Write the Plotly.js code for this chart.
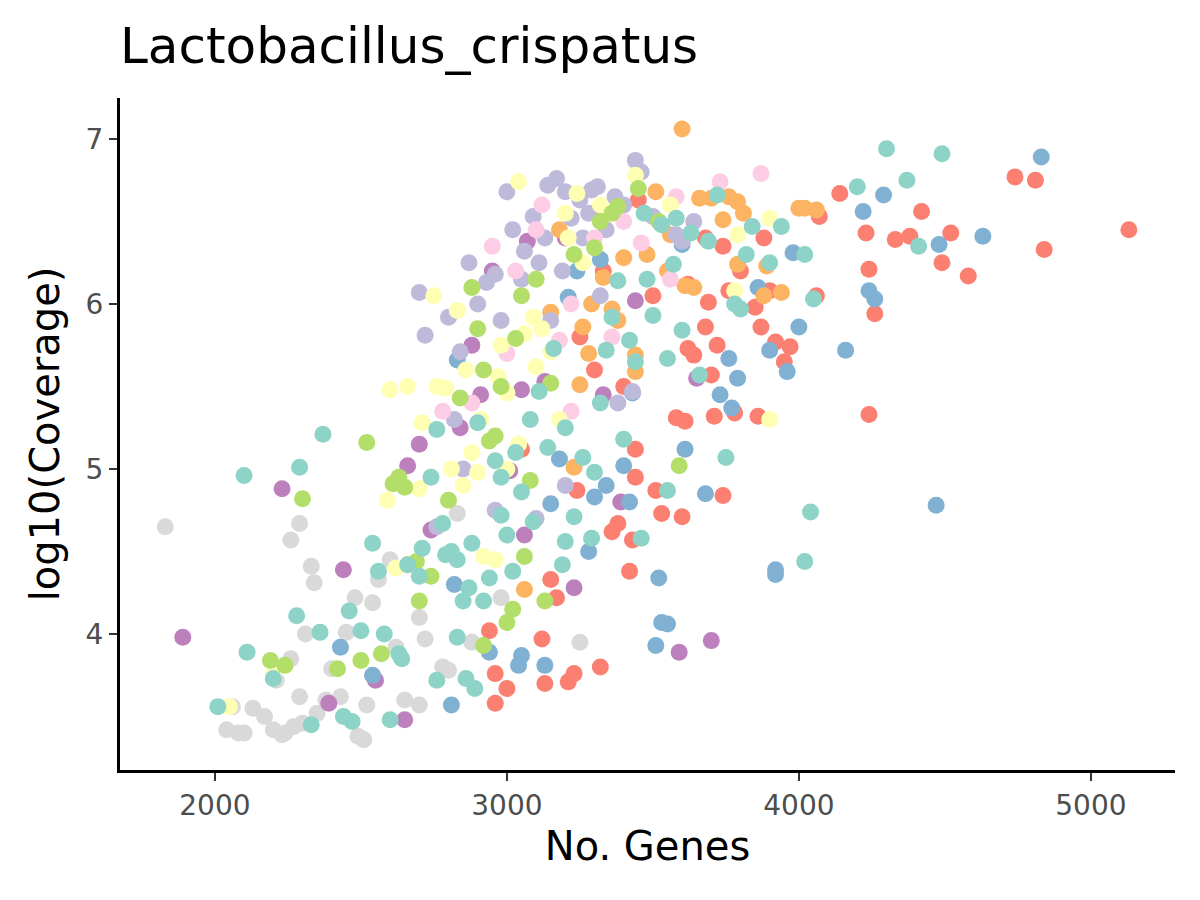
<!DOCTYPE html>
<html>
<head>
<meta charset="utf-8">
<script src="https://cdn.plot.ly/plotly-3.0.1.min.js"></script>
<style>body{margin:0;background:#fff}#chart{width:1200px;height:900px}</style>
</head>
<body>
<div id="chart"></div>
<script>
// [genes, log10 coverage] pairs per group
const greyPts = [[1830,4.65],[2040,3.42],[2060,3.56],[2080,3.40],[2100,3.40],[2130,3.55],[2170,3.50],[2200,3.42],[2210,3.72],[2240,3.40],[2260,3.85],[2260,4.57],[2290,4.67],[2290,3.62],[2300,3.46],[2330,4.41],[2340,4.31],[2350,3.52],[2380,3.60],[2400,3.79],[2430,3.62],[2450,4.01],[2480,4.22],[2490,3.38],[2510,3.36],[2520,3.57],[2540,4.19],[2560,4.33],[2600,4.45],[2620,3.92],[2650,3.60],[2700,4.10],[2700,3.57],[2720,3.97],[2780,3.80],[2800,3.78],[2830,4.73],[2880,3.95],[2980,4.22],[3250,3.95],[2270,3.44],[2230,3.39],[2310,4.00]];
const purplePts = [[1890,3.98],[2230,4.88],[2390,3.58],[2440,4.39],[2550,3.72],[2650,3.48],[2660,5.02],[2700,5.15],[2740,4.63],[2880,5.75],[2910,5.45],[2950,6.20],[3010,4.99],[3060,4.60],[3070,6.38],[3130,5.53],[3200,6.40],[3230,4.28],[3330,5.45],[3390,4.80],[3440,6.02],[3590,3.89],[3650,5.55],[3700,3.96],[3050,5.48],[2840,5.25]];
const salmonPts = [[2960,3.58],[2940,4.02],[2960,3.76],[3000,3.67],[3130,3.70],[3120,3.97],[3150,4.33],[3170,4.22],[3210,3.71],[3230,3.76],[3240,4.87],[3320,3.80],[3360,4.62],[3380,4.67],[3420,4.38],[3430,4.57],[3440,5.12],[3510,4.87],[3530,4.73],[3580,5.31],[3600,4.71],[3610,5.29],[3620,5.73],[3640,5.69],[3680,5.86],[3690,6.01],[3700,5.57],[3710,5.32],[3720,5.75],[3740,6.35],[3760,6.08],[3780,5.34],[3800,6.20],[3850,5.98],[3860,5.32],[3870,5.86],[3880,6.40],[3900,6.08],[3920,5.77],[3950,5.65],[3970,5.74],[4060,6.05],[4070,6.53],[4140,6.67],[4230,6.43],[4240,5.33],[4240,6.21],[4260,5.94],[4330,6.39],[4380,6.41],[4420,6.56],[4490,6.25],[4520,6.43],[4580,6.17],[4740,6.77],[4810,6.75],[4840,6.33],[5130,6.45],[3050,5.12],[3300,5.60],[3500,6.05],[3440,4.95],[3620,6.12],[3740,4.84],[3450,6.63],[3330,6.20],[3250,5.80],[3400,5.50],[3680,6.40]];
const bluePts = [[2430,3.92],[2540,3.75],[2810,3.57],[2830,5.66],[2820,4.30],[2940,3.89],[3040,3.81],[3050,3.87],[3130,3.81],[3150,4.79],[3180,5.06],[3240,6.20],[3280,4.50],[3300,4.83],[3340,4.90],[3400,5.02],[3420,4.80],[3430,5.46],[3510,3.93],[3520,4.34],[3530,4.07],[3550,4.06],[3610,5.12],[3680,4.85],[3730,5.45],[3760,5.67],[3770,5.37],[3790,5.55],[3860,6.10],[3900,5.72],[3920,4.36],[3920,4.39],[3960,5.59],[3980,6.31],[4000,5.86],[4160,5.72],[4220,6.56],[4240,6.08],[4260,6.03],[4290,6.66],[4470,4.78],[4480,6.36],[4630,6.41],[4830,6.89],[3210,6.04],[3320,6.27],[3600,6.36]];
const orangePts = [[2660,4.42],[3060,4.27],[3230,5.01],[3250,5.51],[3260,5.86],[3290,6.00],[3330,6.16],[3360,5.97],[3380,5.90],[3440,5.69],[3440,5.59],[3480,6.30],[3510,6.68],[3560,6.42],[3600,7.06],[3610,6.11],[3640,6.10],[3660,6.64],[3700,6.64],[3740,6.51],[3790,6.62],[3790,6.24],[3810,6.55],[3880,6.05],[3890,6.23],[3940,6.07],[4000,6.58],[4020,6.58],[4060,6.57],[3300,6.55],[3150,5.95],[3550,6.20],[3760,6.65],[3180,6.45],[3400,6.28],[3280,5.70]];
const greenPts = [[2190,3.84],[2240,3.81],[2300,4.82],[2420,3.79],[2500,3.84],[2520,5.16],[2570,3.88],[2610,4.91],[2650,4.89],[2690,4.44],[2700,4.20],[2740,4.35],[2800,4.81],[2840,5.43],[2880,6.10],[2920,3.93],[2940,5.17],[2960,5.20],[3000,4.07],[3020,4.15],[3030,5.79],[3060,4.47],[3080,4.93],[3100,6.15],[3130,4.20],[3150,5.52],[3230,6.30],[3300,6.34],[3320,6.50],[3360,6.55],[3380,6.59],[3450,6.70],[3520,6.50],[3590,5.02],[2900,5.85],[2980,5.50],[3050,6.05],[2630,4.95],[2920,5.60]];
const yellowPts = [[2050,3.56],[2200,3.75],[2590,4.81],[2620,4.40],[2660,5.50],[2710,5.28],[2750,6.05],[2790,5.49],[2810,5.00],[2830,5.96],[2850,4.90],[2880,5.10],[2910,5.30],[2920,4.47],[2960,4.45],[2970,5.56],[3000,5.46],[3040,6.74],[3060,5.82],[3090,5.92],[3100,5.62],[3150,5.71],[3200,6.55],[3210,6.40],[3240,6.67],[3320,6.60],[3440,6.78],[3560,6.60],[3780,6.08],[3790,6.42],[3900,5.30],[3900,6.52],[3040,5.15],[2900,4.98],[3180,5.30],[3000,5.00],[2700,4.88],[2600,5.48],[2760,5.50],[2860,5.60],[2980,5.75],[3120,5.85],[3260,6.25]];
const pinkPts = [[2780,5.35],[2880,5.40],[2950,6.35],[3030,6.20],[3120,6.60],[3180,5.78],[3220,5.35],[3360,5.80],[3400,6.50],[3460,6.37],[3580,6.65],[3730,6.74],[3870,6.79],[3560,6.15],[3220,6.00],[3000,5.70],[3100,6.45],[3300,6.40]];
const lavenderPts = [[2700,6.07],[2720,5.81],[2800,5.92],[2840,5.71],[2870,6.25],[2930,6.13],[2960,6.18],[2980,5.90],[3000,6.68],[3060,6.32],[3090,6.53],[3110,6.25],[3140,6.72],[3170,6.76],[3200,6.68],[3220,6.52],[3250,6.63],[3290,6.69],[3310,6.71],[3340,6.45],[3370,6.65],[3400,6.60],[3440,6.87],[3460,6.80],[3500,6.53],[3580,6.42],[3600,6.38],[3640,6.50],[2850,5.00],[2960,4.75],[3100,4.70],[3200,4.90],[3380,5.40],[3430,5.47],[2760,4.65],[2820,5.30],[3150,5.90],[3320,6.05],[3050,6.15],[3260,6.40],[3130,6.40],[3280,6.55],[3020,6.45],[2900,6.00],[3190,6.20]];
const tealPts = [[2010,3.56],[2100,4.96],[2110,3.89],[2200,3.73],[2280,4.11],[2290,5.01],[2330,3.45],[2360,4.01],[2370,5.21],[2460,4.14],[2470,3.47],[2500,4.02],[2540,4.55],[2560,4.38],[2600,3.48],[2630,3.88],[2660,4.42],[2700,4.35],[2710,4.52],[2740,4.95],[2760,5.24],[2780,4.67],[2790,4.48],[2810,4.50],[2830,3.98],[2860,3.73],[2870,4.28],[2890,3.67],[2900,5.28],[2940,4.34],[2960,5.05],[2980,4.72],[3000,4.60],[3020,4.38],[3030,5.10],[3050,4.86],[3090,4.68],[3110,5.47],[3140,5.13],[3160,5.73],[3190,4.42],[3200,4.56],[3230,4.71],[3260,5.07],[3290,4.58],[3300,4.98],[3320,5.40],[3340,5.72],[3360,5.92],[3380,6.14],[3400,5.18],[3420,5.78],[3440,5.65],[3470,6.55],[3500,5.93],[3530,6.48],[3550,5.67],[3570,6.24],[3600,5.84],[3630,6.43],[3660,5.57],[3690,6.38],[3720,6.66],[3750,5.07],[3780,6.00],[3800,5.97],[3820,6.30],[3840,6.47],[3900,6.25],[3940,6.47],[4020,6.30],[4040,4.74],[4020,4.44],[4050,6.03],[4200,6.71],[4300,6.94],[4370,6.75],[4410,6.35],[4490,6.91],[2580,4.00],[2640,3.85],[2850,4.20],[3460,4.58],[3550,4.87],[2760,3.72],[2440,3.50],[2880,4.55],[2980,4.95],[3080,5.30],[3200,5.25],[3480,6.15],[3580,6.52],[2920,4.20],[2830,4.45]];

const groups = [
    [greyPts, '#D9D9D9'], [purplePts, '#BC80BD'], [salmonPts, '#FB8072'], [bluePts, '#80B1D3'],
    [orangePts, '#FDB462'], [lavenderPts, '#BEBADA'], [pinkPts, '#FCCDE5'], [yellowPts, '#FFFFB3'],
    [greenPts, '#B3DE69'], [tealPts, '#8DD3C7'],
];

const traces = groups.map(([pts, col]) => ({
    x: pts.map(p => p[0]), y: pts.map(p => p[1]),
    type: 'scatter', mode: 'markers', showlegend: false, hoverinfo: 'skip',
    marker: { color: col, size: 17, line: { width: 0 } },
}));

const axisCommon = {
    showgrid: false, zeroline: false, showline: true, linecolor: '#000', linewidth: 3,
    ticks: 'outside', ticklen: 8, tickwidth: 2.5, tickcolor: '#333',
    tickfont: { size: 28, color: '#4d4d4d' },
};

Plotly.newPlot('chart', traces, {
    width: 1200, height: 900,
    paper_bgcolor: '#fff', plot_bgcolor: '#fff',
    font: { family: 'DejaVu Sans, sans-serif', color: '#000' },
    margin: { l: 120, r: 25, t: 98, b: 130 },
    title: { text: 'Lactobacillus_crispatus', x: 0.1, xanchor: 'left', y: 0.95, yanchor: 'middle', font: { size: 50, color: '#000' } },
    xaxis: Object.assign({}, axisCommon, { range: [1675, 5288], tickvals: [2000, 3000, 4000, 5000],
        title: { text: 'No. Genes', font: { size: 40 }, standoff: 12 } }),
    yaxis: Object.assign({}, axisCommon, { range: [3.176, 7.248], tickvals: [4, 5, 6, 7],
        title: { text: 'log10(Coverage)', font: { size: 40 }, standoff: 14 } }),
}, { staticPlot: true });
</script>
</body>
</html>
